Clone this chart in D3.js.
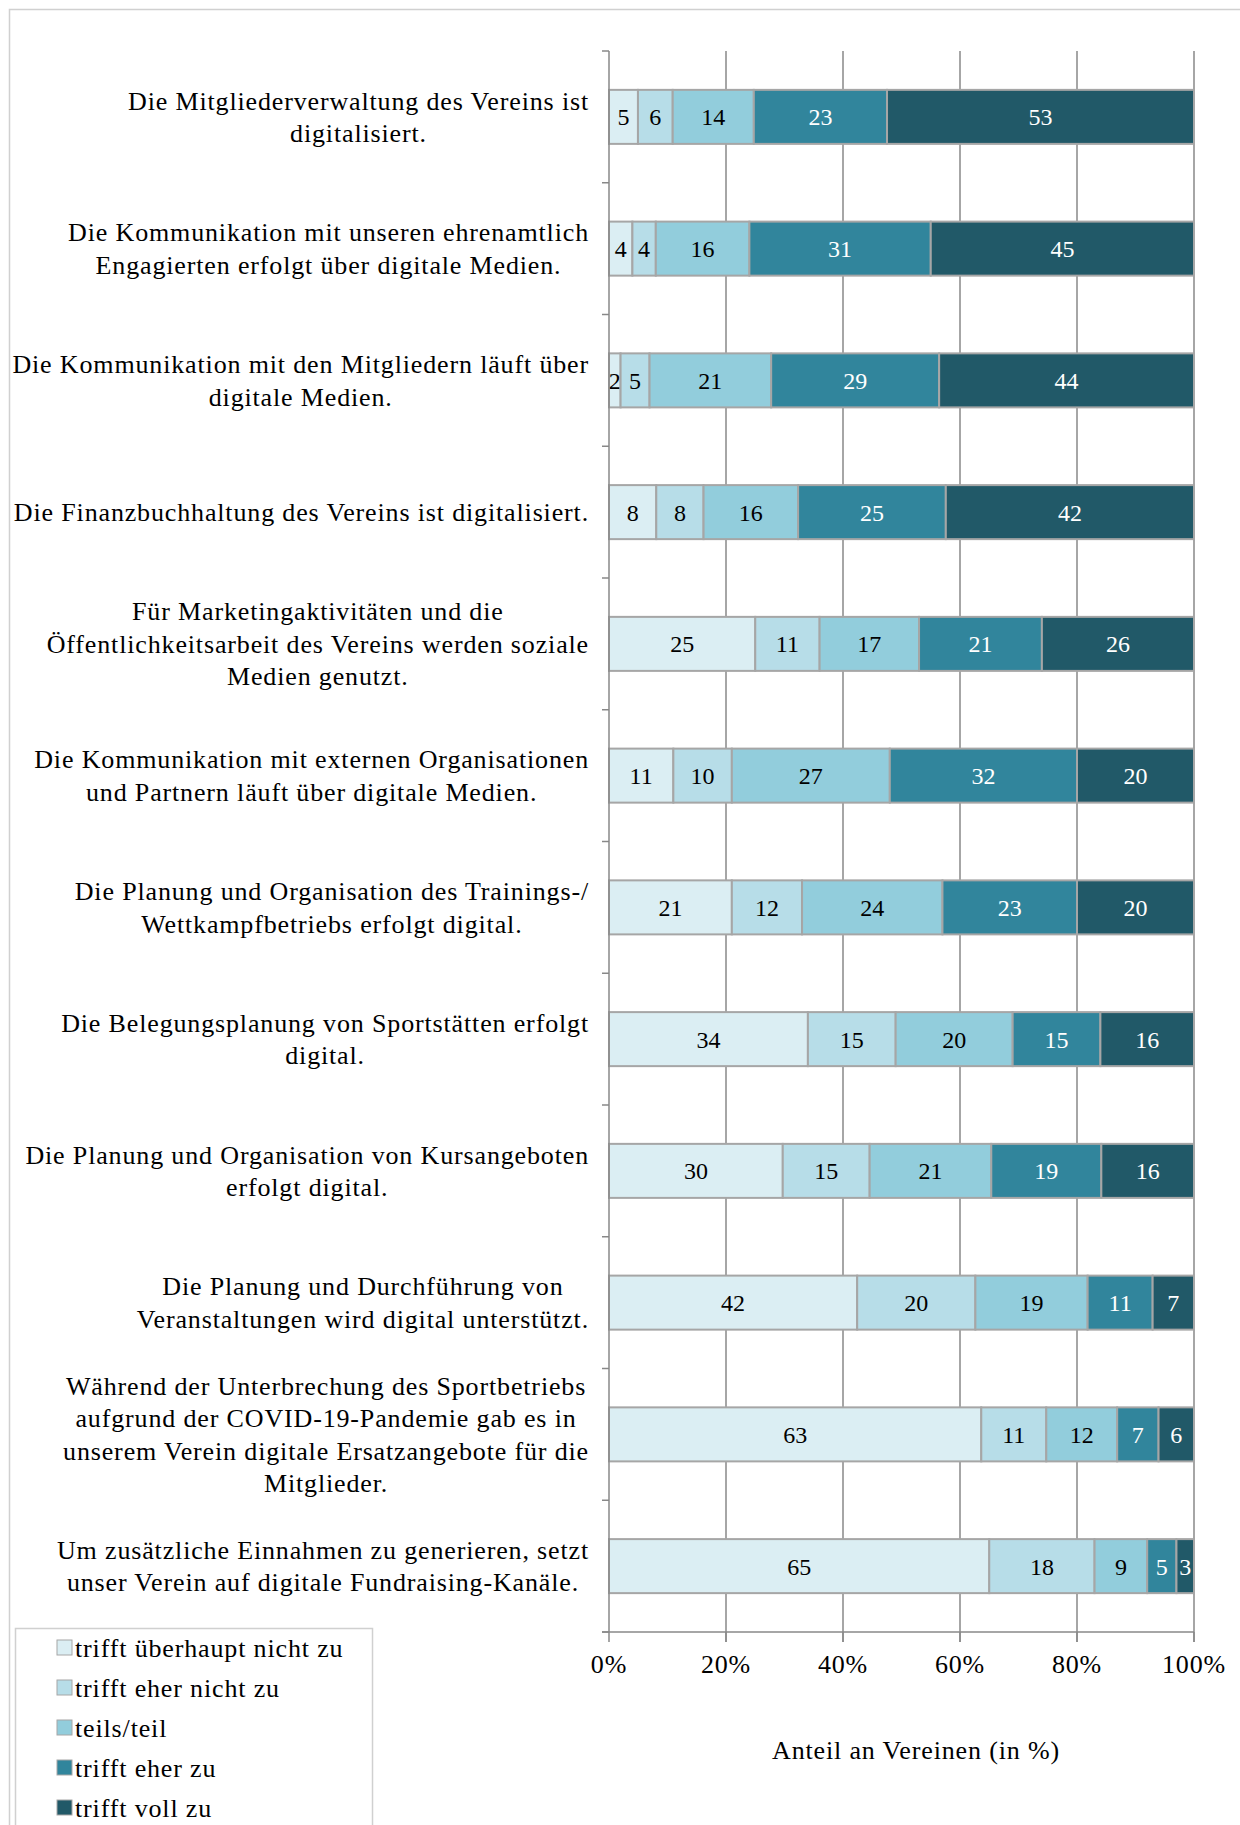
<!DOCTYPE html>
<html lang="de">
<head>
    <meta charset="UTF-8">
    <title>Digitalisierung in Sportvereinen</title>
    <script src="https://cdn.jsdelivr.net/npm/d3@7"></script>
    <style>
        body { margin: 0; background: #fff; }
        text { font-family: "Liberation Serif", "Times New Roman", serif; fill: #000; }
        .cat { font-size: 26px; letter-spacing: 0.85px; text-anchor: middle; }
        .val { font-size: 24px; text-anchor: middle; }
        .tick-label { font-size: 26px; letter-spacing: 0.85px; text-anchor: middle; }
        .legend text { font-size: 26px; letter-spacing: 0.85px; }
    </style>
</head>
<body>
<div id="chart"></div>
<script>
    const width = 1240;
    const height = 1825;

    // Kategorien (Zeilen so umbrochen wie im Original)
    const categories = [
        ["Die Mitgliederverwaltung des Vereins ist", "digitalisiert."],
        ["Die Kommunikation mit unseren ehrenamtlich", "Engagierten erfolgt über digitale Medien."],
        ["Die Kommunikation mit den Mitgliedern läuft über", "digitale Medien."],
        ["Die Finanzbuchhaltung des Vereins ist digitalisiert."],
        ["Für Marketingaktivitäten und die", "Öffentlichkeitsarbeit des Vereins werden soziale", "Medien genutzt."],
        ["Die Kommunikation mit externen Organisationen", "und Partnern läuft über digitale Medien."],
        ["Die Planung und Organisation des Trainings-/", "Wettkampfbetriebs erfolgt digital."],
        ["Die Belegungsplanung von Sportstätten erfolgt", "digital."],
        ["Die Planung und Organisation von Kursangeboten", "erfolgt digital."],
        ["Die Planung und Durchführung von", "Veranstaltungen wird digital unterstützt."],
        ["Während der Unterbrechung des Sportbetriebs", "aufgrund der COVID-19-Pandemie gab es in", "unserem Verein digitale Ersatzangebote für die", "Mitglieder."],
        ["Um zusätzliche Einnahmen zu generieren, setzt", "unser Verein auf digitale Fundraising-Kanäle."]
    ];

    const seriesNames = ["trifft überhaupt nicht zu", "trifft eher nicht zu", "teils/teil", "trifft eher zu", "trifft voll zu"];

    const ueberhauptNicht = [5, 4, 2, 8, 25, 11, 21, 34, 30, 42, 63, 65];
    const eherNicht       = [6, 4, 5, 8, 11, 10, 12, 15, 15, 20, 11, 18];
    const teils           = [14, 16, 21, 16, 17, 27, 24, 20, 21, 19, 12, 9];
    const eherZu          = [23, 31, 29, 25, 21, 32, 23, 15, 19, 11, 7, 5];
    const vollZu          = [53, 45, 44, 42, 26, 20, 20, 16, 16, 7, 6, 3];

    const tickValues = [0, 0.2, 0.4, 0.6, 0.8, 1];
    const axisTitle = "Anteil an Vereinen (in %)";

    const colors = ["#dbeef3", "#b7dde8", "#92cddc", "#31859c", "#215968"];
    const textColors = ["#000", "#000", "#000", "#fff", "#fff"];

    const series = [ueberhauptNicht, eherNicht, teils, eherZu, vollZu];
    const rows = categories.map((c, i) => {
        const r = { idx: i };
        series.forEach((s, k) => { r["s" + k] = s[i]; });
        return r;
    });
    const keys = series.map((s, k) => "s" + k);

    // 100%-gestapelt
    const stacked = d3.stack().keys(keys).offset(d3.stackOffsetExpand)(rows);

    const x = d3.scaleLinear().domain([0, 1]).range([609, 1194]);
    const y = d3.scaleBand()
        .domain(d3.range(categories.length))
        .range([51, 1632])
        .paddingInner(0.59)
        .paddingOuter(0.295);

    const svg = d3.select("#chart").append("svg")
        .attr("width", width)
        .attr("height", height);

    // Rahmen des Diagramms
    svg.append("rect")
        .attr("x", 9.5).attr("y", 9.5)
        .attr("width", width + 20).attr("height", height + 20)
        .attr("fill", "none")
        .attr("stroke", "#d0d0d0")
        .attr("stroke-width", 1.5);

    // Gitterlinien
    svg.append("g").selectAll("line")
        .data(tickValues.slice(1))
        .join("line")
        .attr("x1", d => x(d)).attr("x2", d => x(d))
        .attr("y1", 51).attr("y2", 1642)
        .attr("stroke", "#888")
        .attr("stroke-width", 1.5);

    // Balken
    const layer = svg.append("g").selectAll("g")
        .data(stacked)
        .join("g");

    layer.selectAll("rect")
        .data((d, k) => d.map(p => ({ p: p, k: k })))
        .join("rect")
        .attr("x", d => x(d.p[0]))
        .attr("y", d => y(d.p.data.idx))
        .attr("width", d => x(d.p[1]) - x(d.p[0]))
        .attr("height", y.bandwidth())
        .attr("fill", d => colors[d.k])
        .attr("stroke", "#a6a6a6")
        .attr("stroke-width", 2);

    layer.selectAll("text")
        .data((d, k) => d.map(p => ({ p: p, k: k })))
        .join("text")
        .attr("class", "val")
        .attr("x", d => (x(d.p[0]) + x(d.p[1])) / 2)
        .attr("y", d => y(d.p.data.idx) + y.bandwidth() / 2)
        .attr("dy", "0.35em")
        .style("fill", d => textColors[d.k])
        .text(d => series[d.k][d.p.data.idx]);

    // y-Achse
    const yAxis = svg.append("g");
    yAxis.append("line")
        .attr("x1", 609).attr("x2", 609)
        .attr("y1", 51).attr("y2", 1632)
        .attr("stroke", "#888").attr("stroke-width", 1.5);
    yAxis.selectAll("line.t")
        .data(d3.range(categories.length + 1))
        .join("line")
        .attr("class", "t")
        .attr("x1", 602).attr("x2", 609)
        .attr("y1", i => 51 + i * y.step())
        .attr("y2", i => 51 + i * y.step())
        .attr("stroke", "#888").attr("stroke-width", 1.5);

    // Kategorien-Beschriftung, zentrierter Block rechtsbündig an der Achse
    const labelRight = 589;
    const lineH = 32.5;
    const catG = svg.append("g");
    categories.forEach((lines, i) => {
        const t = catG.append("text")
            .attr("class", "cat")
            .attr("y", y(i) + y.bandwidth() / 2 - (lines.length - 1) * lineH / 2);
        lines.forEach((ln, j) => {
            t.append("tspan").attr("dy", j === 0 ? "0.35em" : lineH).text(ln);
        });
        let maxW = 0;
        t.selectAll("tspan").each(function() {
            maxW = Math.max(maxW, this.getComputedTextLength());
        });
        const cx = labelRight - maxW / 2;
        t.attr("x", cx);
        t.selectAll("tspan").attr("x", cx);
    });

    // x-Achse
    const xAxis = svg.append("g");
    xAxis.append("line")
        .attr("x1", 602).attr("x2", 1194)
        .attr("y1", 1632).attr("y2", 1632)
        .attr("stroke", "#888").attr("stroke-width", 1.5);
    xAxis.selectAll("line.t")
        .data(tickValues)
        .join("line")
        .attr("class", "t")
        .attr("x1", d => x(d)).attr("x2", d => x(d))
        .attr("y1", 1632).attr("y2", 1642)
        .attr("stroke", "#888").attr("stroke-width", 1.5);
    xAxis.selectAll("text")
        .data(tickValues)
        .join("text")
        .attr("class", "tick-label")
        .attr("x", d => x(d))
        .attr("y", 1664)
        .attr("dy", "0.35em")
        .text(d3.format(".0%"));

    svg.append("text")
        .attr("class", "tick-label")
        .attr("x", 916)
        .attr("y", 1750)
        .attr("dy", "0.35em")
        .text(axisTitle);

    // Legende
    const legend = svg.append("g").attr("class", "legend");
    legend.append("rect")
        .attr("x", 15.5).attr("y", 1628.5)
        .attr("width", 357).attr("height", 230)
        .attr("fill", "#fff")
        .attr("stroke", "#d0d0d0")
        .attr("stroke-width", 1.5);
    const item = legend.selectAll("g")
        .data(seriesNames)
        .join("g")
        .attr("transform", (d, i) => `translate(0,${1648 + i * 40})`);
    item.append("rect")
        .attr("x", 57).attr("y", -8)
        .attr("width", 15).attr("height", 15)
        .attr("fill", (d, i) => colors[i])
        .attr("stroke", "#a6a6a6")
        .attr("stroke-width", 1);
    item.append("text")
        .attr("x", 75)
        .attr("dy", "0.35em")
        .text(d => d);
</script>
</body>
</html>
